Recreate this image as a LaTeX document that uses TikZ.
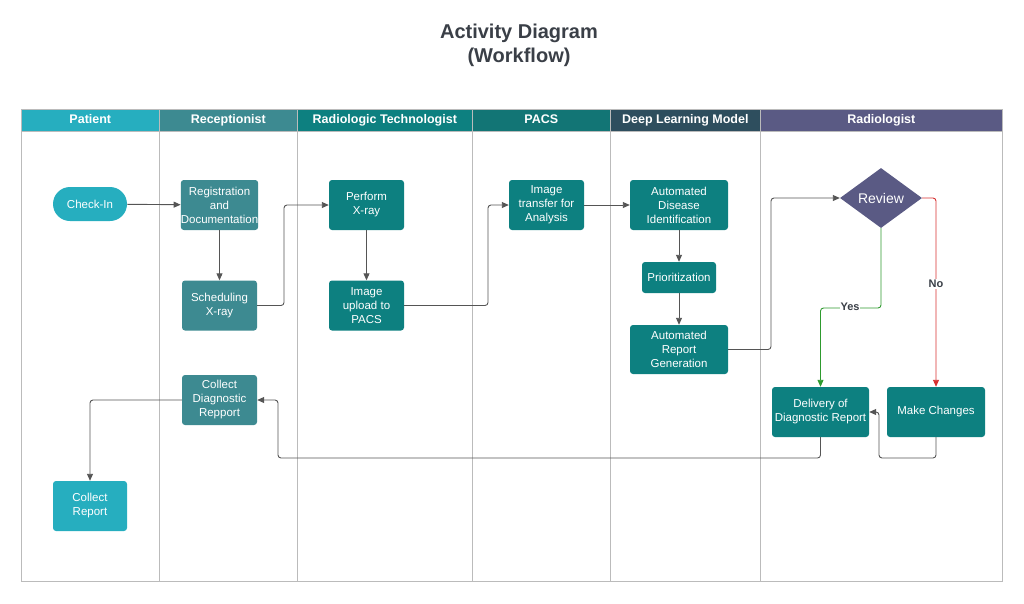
\documentclass[tikz,border=0pt]{standalone}
\usepackage{fontspec}
\setmainfont{Liberation Sans}
\usetikzlibrary{shapes.geometric,arrows.meta}
\definecolor{cPat}{HTML}{26AEBF}
\definecolor{cRec}{HTML}{3D8A91}
\definecolor{cTech}{HTML}{0D8080}
\definecolor{cPacs}{HTML}{127575}
\definecolor{cDlm}{HTML}{2E4E5E}
\definecolor{cRad}{HTML}{5A5A84}
\definecolor{cLine}{HTML}{555555}
\definecolor{cGrid}{HTML}{BBBBBB}
\definecolor{cTitle}{HTML}{3A3F47}
\definecolor{cYes}{HTML}{2E9A2E}
\definecolor{cNo}{HTML}{D63030}
\tikzset{
  hdr/.style={fill=#1, draw=cGrid, line width=0.6pt, text=white, font=\fontsize{12.5}{14}\selectfont\bfseries, anchor=north west, inner sep=0pt, align=center, text height=9pt, text depth=2pt},
  lane/.style={draw=cGrid, line width=0.8pt},
  box/.style={fill=#1, draw=none, rounded corners=3pt, text=white, font=\fontsize{11.5}{14}\selectfont, align=center, inner sep=0pt},
  flow/.style={draw=cLine, line width=0.9pt, rounded corners=3pt, -{Triangle[length=7pt,width=6pt]}},
  lbl/.style={font=\fontsize{11}{13}\selectfont\bfseries, text=cTitle, fill=white, inner sep=1pt}
}
\begin{document}
\begin{tikzpicture}[x=1pt,y=-1pt]
\useasboundingbox (0,0) rectangle (1024,603);
% title
\node[font=\fontsize{20}{24}\selectfont\bfseries, text=cTitle, align=center] (title) at (519,45) {Activity Diagram\\(Workflow)};
% lanes
\foreach \a/\b in {21/159,159/297,297/472,472/610,610/760,760/1002}{
  \draw[lane] (\a,131) rectangle (\b,581);
}
\node[hdr=cPat, minimum width=138pt, minimum height=22pt] (hPat) at (21,109) {Patient};
\node[hdr=cRec, minimum width=138pt, minimum height=22pt] (hRec) at (159,109) {Receptionist};
\node[hdr=cTech, minimum width=175pt, minimum height=22pt] (hTech) at (297,109) {Radiologic Technologist};
\node[hdr=cPacs, minimum width=138pt, minimum height=22pt] (hPacs) at (472,109) {PACS};
\node[hdr=cDlm, minimum width=150pt, minimum height=22pt] (hDlm) at (610,109) {Deep Learning Model};
\node[hdr=cRad, minimum width=242pt, minimum height=22pt] (hRad) at (760,109) {Radiologist};
% nodes
\node[box=cPat, rounded corners=17pt, minimum width=74pt, minimum height=34pt] (checkin) at (90,204) {Check-In};
\node[box=cRec, minimum width=75pt, minimum height=50pt] (reg) at (219.5,205) {Registration\\and\\Documentation};
\node[box=cRec, minimum width=75pt, minimum height=50pt] (sched) at (219.5,305.5) {Scheduling\\X-ray};
\node[box=cTech, minimum width=75pt, minimum height=50pt] (perform) at (366.5,205) {Perform\\X-ray};
\node[box=cTech, minimum width=75pt, minimum height=50pt] (upload) at (366.5,305.5) {Image\\upload to\\PACS};
\node[box=cTech, minimum width=75pt, minimum height=50pt] (transfer) at (546.5,205) {Image\\transfer for\\Analysis};
\node[box=cTech, minimum width=98pt, minimum height=50pt] (adi) at (679,205) {Automated\\Disease\\Identification};
\node[box=cTech, minimum width=74pt, minimum height=31pt] (prio) at (679,277.5) {Prioritization};
\node[box=cTech, minimum width=98pt, minimum height=49pt] (arg) at (679,349.5) {Automated\\Report\\Generation};
\node[diamond, fill=cRad, text=white, font=\fontsize{14}{16}\selectfont, minimum width=82pt, minimum height=60pt, inner sep=0pt] (review) at (881,198) {Review};
\node[box=cTech, minimum width=97pt, minimum height=50pt] (deliv) at (820.5,412) {Delivery of\\Diagnostic Report};
\node[box=cTech, minimum width=98pt, minimum height=50pt] (changes) at (936,412) {Make Changes};
\node[box=cRec, minimum width=75pt, minimum height=50pt] (colldiag) at (219.5,400) {Collect\\Diagnostic\\Repport};
\node[box=cPat, minimum width=74pt, minimum height=50pt] (collrep) at (90,506) {Collect\\Report};
% connectors
\draw[flow] (checkin) -- (reg);
\draw[flow] (reg) -- (sched);
\draw[flow] (sched.east) -- (284,305.5) -- (284,205) -- (perform.west);
\draw[flow] (perform) -- (upload);
\draw[flow] (upload.east) -- (488,305.5) -- (488,205) -- (transfer.west);
\draw[flow] (transfer) -- (adi);
\draw[flow] (adi) -- (prio);
\draw[flow] (prio) -- (arg);
\draw[flow] (arg.east) -- (771,349.5) -- (771,198) -- (review.west);
\draw[flow, draw=cYes, -{Triangle[length=7pt,width=6pt,fill=cYes]}] (review.south) -- (881,308) -- (820.5,308) -- (deliv.north);
\node[lbl] (yes) at (850,307) {Yes};
\draw[flow, draw=cNo, -{Triangle[length=7pt,width=6pt,fill=cNo]}] (review.east) -- (936,198) -- (changes.north);
\node[lbl] (no) at (936,284) {No};
\draw[flow] (changes.south) -- (936,458) -- (879,458) -- (879,412) -- (deliv.east);
\draw[flow] (deliv.south) -- (820.5,458) -- (278,458) -- (278,400) -- (colldiag.east);
\draw[flow] (colldiag.west) -| (collrep.north);
\end{tikzpicture}
\end{document}
